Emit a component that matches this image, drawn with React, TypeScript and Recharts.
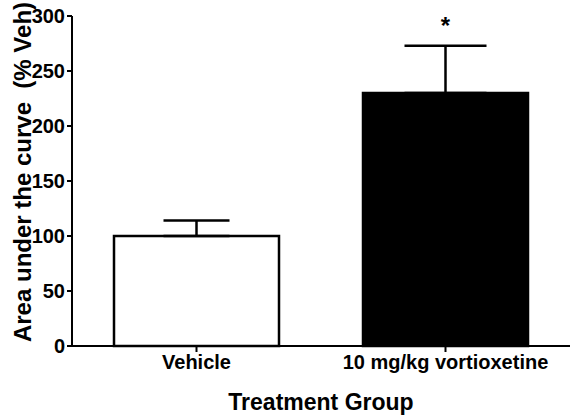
import { BarChart, Bar, XAxis, YAxis, ErrorBar, LabelList, Label } from "recharts"

// treatment groups and their AUC values (% of vehicle), with SEM
const groups = ["Vehicle", "10 mg/kg vortioxetine"]
const auc = [100, 230]
const sem = [14, 43]
const significance = ["", "*"]
const yTicks = [0, 50, 100, 150, 200, 250, 300]

const FONT = "'Liberation Sans', Arial, Helvetica, sans-serif"
const barFills = ["#ffffff", "#000000"]

// one error key per group so each cap can get its own width
const data = groups.map((group, i) => ({
  group,
  auc: auc[i],
  vehErr: i === 0 ? [0, sem[i]] : undefined,
  drugErr: i === 1 ? [0, sem[i]] : undefined,
  mark: significance[i],
}))

const BarShape = (props: any) => {
  const { x, y, width, height, payload } = props
  const i = groups.indexOf(payload.group)
  return (
    <rect
      x={x}
      y={y}
      width={width}
      height={height}
      fill={barFills[i]}
      stroke="#000"
      strokeWidth={2.5}
    />
  )
}

// asterisk sits above the top of the error bar
const MarkLabel = (props: any) => {
  const { x, y, width, height, index, value } = props
  if (!value) return null
  const top = y - (sem[index] * height) / auc[index]
  return (
    <text
      x={x + width / 2}
      y={top - 12}
      textAnchor="middle"
      fontFamily={FONT}
      fontWeight="bold"
      fontSize={24}
      fill="#000"
    >
      {value}
    </text>
  )
}

const App = () => {
  return (
    <div style={{ position: "absolute", left: 0, top: 0, background: "#fff" }}>
      <BarChart
        width={572}
        height={415}
        data={data}
        margin={{ top: 16, right: 2, left: 0, bottom: 0 }}
        barCategoryGap={42}
      >
        <YAxis
          width={72}
          domain={[0, 300]}
          ticks={yTicks}
          interval={0}
          tickSize={5}
          tickMargin={2}
          axisLine={{ stroke: "#000", strokeWidth: 2 }}
          tickLine={{ stroke: "#000", strokeWidth: 2 }}
          tick={{ fill: "#000", fontSize: 20, fontWeight: "bold", fontFamily: FONT }}
        >
          <Label
            content={() => (
              <text
                x={22}
                y={172}
                transform="rotate(-90 22 172)"
                textAnchor="middle"
                dominantBaseline="central"
                fontFamily={FONT}
                fontWeight="bold"
                fontSize={24}
                fill="#000"
                style={{ whiteSpace: "pre" }}
              >
                {"Area under the curve  (% Veh)"}
              </text>
            )}
          />
        </YAxis>
        <XAxis
          dataKey="group"
          height={69}
          tickSize={6}
          tickMargin={3}
          axisLine={{ stroke: "#000", strokeWidth: 2 }}
          tickLine={{ stroke: "#000", strokeWidth: 2 }}
          tick={{ fill: "#000", fontSize: 20, fontWeight: "bold", fontFamily: FONT }}
        >
          <Label
            value="Treatment Group"
            position="insideBottom"
            offset={5}
            fill="#000"
            fontSize={23}
            fontWeight="bold"
            fontFamily={FONT}
          />
        </XAxis>
        <Bar dataKey="auc" shape={BarShape} isAnimationActive={false}>
          <ErrorBar dataKey="vehErr" direction="y" width={33} stroke="#000" strokeWidth={2.5} />
          <ErrorBar dataKey="drugErr" direction="y" width={41} stroke="#000" strokeWidth={2.5} />
          <LabelList dataKey="mark" content={MarkLabel} />
        </Bar>
      </BarChart>
    </div>
  )
}

export default App
